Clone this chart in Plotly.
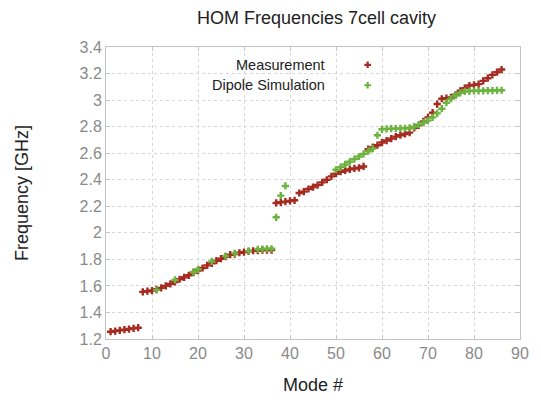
import plotly.graph_objects as go

# ---- data ----
meas_mode = list(range(1, 87))
meas_freq = [
    1.255, 1.26, 1.265, 1.27, 1.275, 1.28, 1.285,
    1.555, 1.56, 1.565, 1.575, 1.585, 1.60, 1.615, 1.63, 1.65, 1.665, 1.68,
    1.70, 1.715, 1.735, 1.755, 1.77, 1.79, 1.805, 1.82, 1.835, 1.84, 1.85,
    1.855, 1.86, 1.865, 1.865, 1.87, 1.87, 1.87,
    2.225, 2.23, 2.235, 2.24, 2.245,
    2.30, 2.31, 2.33, 2.345, 2.36, 2.38, 2.40, 2.425, 2.445, 2.46, 2.47,
    2.478, 2.485, 2.49, 2.50,
    2.63, 2.645, 2.66, 2.68, 2.695, 2.71, 2.725, 2.735, 2.745, 2.755,
    2.79, 2.81, 2.84, 2.87, 2.905, 2.97, 3.01, 3.015, 3.02, 3.04, 3.07,
    3.09, 3.11, 3.115, 3.12, 3.145, 3.165, 3.19, 3.21, 3.23,
]

sim_mode = [11, 15, 19, 20, 23, 26, 28, 31, 33, 34, 35, 36,
            37, 38, 39] + list(range(50, 87))
sim_freq = [1.57, 1.645, 1.705, 1.725, 1.785, 1.825, 1.845, 1.862, 1.875,
            1.877, 1.88, 1.88,
            2.117, 2.28, 2.353,
            2.475, 2.495, 2.515, 2.535, 2.555, 2.575, 2.595, 2.615, 2.635,
            2.735, 2.78, 2.783, 2.785, 2.785, 2.787, 2.788, 2.79,
            2.80, 2.815, 2.83, 2.845, 2.87, 2.90, 2.935, 2.98, 3.01, 3.035,
            3.055, 3.065, 3.068, 3.07, 3.07, 3.07, 3.072, 3.072, 3.073, 3.074]

y_ticks = [1.2, 1.4, 1.6, 1.8, 2.0, 2.2, 2.4, 2.6, 2.8, 3.0, 3.2, 3.4]
y_tick_text = ["1.2", "1.4", "1.6", "1.8", "2", "2.2", "2.4", "2.6", "2.8",
               "3", "3.2", "3.4"]
x_ticks = [0, 10, 20, 30, 40, 50, 60, 70, 80, 90]

series_names = ["Measurement", "Dipole Simulation"]
RED = "#a52a1f"
GREEN = "#6db33f"

fig = go.Figure()
fig.add_trace(go.Scatter(x=meas_mode, y=meas_freq, mode="markers",
                         name=series_names[0],
                         marker=dict(symbol="cross", size=6, color=RED,
                                     line=dict(width=0))))
fig.add_trace(go.Scatter(x=sim_mode, y=sim_freq, mode="markers",
                         name=series_names[1],
                         marker=dict(symbol="cross", size=6, color=GREEN,
                                     line=dict(width=0))))

# legend keys (gnuplot style: text left, key symbol right) on an overlay axis
key_x = [0.632, 0.632]
key_y = [0.939, 0.869]
fig.add_trace(go.Scatter(x=key_x, y=key_y, mode="markers", xaxis="x2",
                         yaxis="y2", showlegend=False, hoverinfo="skip",
                         marker=dict(symbol="cross", size=5.5,
                                     color=[RED, GREEN], line=dict(width=0))))
for name, ky in zip(series_names, key_y):
    fig.add_annotation(text=name, xref="paper", yref="paper", x=0.535,
                       y=ky, xanchor="right", yanchor="middle",
                       showarrow=False,
                       font=dict(size=14.5, color="#222222"))

grid = dict(showgrid=True, gridcolor="#d6d6d6", griddash="dot", gridwidth=1,
            showline=True, linecolor="#c4c4c4", linewidth=1, mirror="ticks",
            ticks="inside", ticklen=4, tickcolor="#c4c4c4", zeroline=False,
            tickfont=dict(size=16, color="#8a8a8a"))

fig.update_layout(
    width=541, height=404,
    margin=dict(l=106, r=15, t=47, b=65),
    plot_bgcolor="white", paper_bgcolor="white",
    font=dict(family="Liberation Sans, Arial, sans-serif", color="#222222"),
    showlegend=False,
    title=dict(text="HOM Frequencies 7cell cavity", x=0.585, xanchor="center",
               y=0.955, yanchor="middle", font=dict(size=18, color="#222222")),
    xaxis=dict(range=[0, 90], tickvals=x_ticks,
               title=dict(text="Mode #", font=dict(size=18), standoff=17),
               **grid),
    yaxis=dict(range=[1.2, 3.4], tickvals=y_ticks, ticktext=y_tick_text,
               title=dict(text="Frequency [GHz]", font=dict(size=18),
                          standoff=46),
               **grid),
    xaxis2=dict(range=[0, 1], overlaying="x", visible=False),
    yaxis2=dict(range=[0, 1], overlaying="y", visible=False),
)

fig.write_html("out.html")
